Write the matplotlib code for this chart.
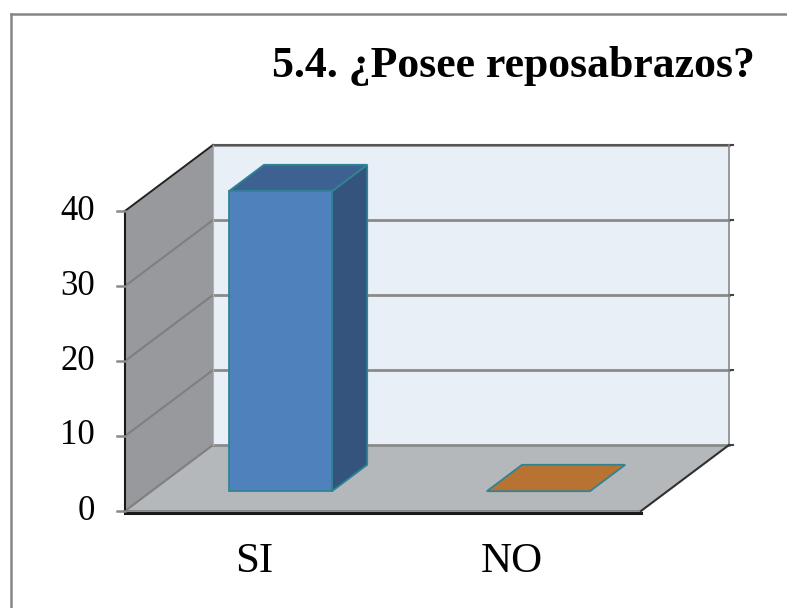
import matplotlib
matplotlib.use("Agg")
import matplotlib.pyplot as plt
from matplotlib.patches import Polygon
import numpy as np

# data
categories = ["SI", "NO"]
values = [40, 0]
y_ticks = [0, 10, 20, 30, 40]
title = "5.4. ¿Posee reposabrazos?"

W, H, DPI = 787, 608, 100
fig = plt.figure(figsize=(W / DPI, H / DPI), dpi=DPI)
fig.patch.set_facecolor("white")

# one axes over the whole figure, data units: category on x, value on y
ax = fig.add_axes([0, 0, 1, 1])
px_x = 516 / len(categories)       # pixels per category
px_y = 300 / max(y_ticks)          # pixels per value unit
x0_px, y0_px = 125, H - 511        # where (0, 0) sits
ax.set_xlim(-x0_px / px_x, (W - x0_px) / px_x)
ax.set_ylim(-y0_px / px_y, (H - y0_px) / px_y)
ax.axis("off")

# depth offset of the back wall, in data units
DX = 88 / px_x
DY = 66 / px_y


def proj(x, y, d):
    return (x + d * DX, y + d * DY)


ncat = len(categories)
ymax = max(y_ticks)
edge_dark = "#202020"

# left wall
ax.add_patch(Polygon([proj(0, 0, 0), proj(0, 0, 1), proj(0, ymax, 1), proj(0, ymax, 0)],
                     closed=True, facecolor="#97999c", edgecolor="none", zorder=1))
# back wall
ax.add_patch(Polygon([proj(0, 0, 1), proj(ncat, 0, 1), proj(ncat, ymax, 1), proj(0, ymax, 1)],
                     closed=True, facecolor="#e9eff6", edgecolor="none", zorder=1))
# floor
ax.add_patch(Polygon([proj(0, 0, 0), proj(ncat, 0, 0), proj(ncat, 0, 1), proj(0, 0, 1)],
                     closed=True, facecolor="#b5b8bb", edgecolor="none", zorder=1))

# gridlines on both walls
for v in y_ticks:
    a, b, c = proj(0, v, 0), proj(0, v, 1), proj(ncat, v, 1)
    ax.plot([a[0], b[0]], [a[1], b[1]], color="#7f7f7f", lw=1.5, zorder=2)
    ax.plot([b[0], c[0]], [b[1], c[1]], color="#8a8a8a", lw=2.0, zorder=2)
    # small tick on the right end of back wall
    ax.plot([c[0], c[0] + 4 / px_x], [c[1], c[1]], color="#444444", lw=1.5, zorder=2)

# wall borders
a, b = proj(0, ymax, 0), proj(0, ymax, 1)
ax.plot([a[0], b[0]], [a[1], b[1]], color=edge_dark, lw=1.2, zorder=3)
a, b = proj(0, ymax, 1), proj(ncat, ymax, 1)
ax.plot([a[0], b[0]], [a[1], b[1]], color="#555555", lw=1.5, zorder=3)
a, b = proj(ncat, 0, 1), proj(ncat, ymax, 1)
ax.plot([a[0], b[0]], [a[1], b[1]], color="#8a8a8a", lw=1.2, zorder=3)
a, b = proj(0, 0, 1), proj(0, ymax, 1)
ax.plot([a[0], b[0]], [a[1], b[1]], color="#b0b0b0", lw=0.8, zorder=3)

# floor edges
ax.plot([0, ncat], [-2.2 / px_y, -2.2 / px_y], color="#1a1a1a", lw=2.2, zorder=3)
ax.plot([0, ncat], [0, 0], color="#7a7a7a", lw=1.2, zorder=3)
a, b = proj(ncat, 0, 0), proj(ncat, 0, 1)
ax.plot([a[0], b[0]], [a[1], b[1]], color="#303030", lw=1.5, zorder=3)

# front axis line and ticks
ax.plot([0, 0], [0, ymax], color="#1a1a1a", lw=1.5, zorder=3)
for v in y_ticks:
    ax.plot([-8 / px_x, 0], [v, v], color="#8a8a8a", lw=1.8, zorder=3)
    ax.text(-30 / px_x, v, str(v), ha="right", va="center",
            fontsize=25, family="Liberation Serif", color="black")

# bars
bar_w = 0.4
d_front, d_back = 0.3, 0.7
colors = [("#4f81bd", "#34547e", "#3d6190"), ("#b87333", "#8a5626", "#b87333")]
bar_edge = "#2f8494"
for i, (cat, val) in enumerate(zip(categories, values)):
    xl = i + 0.5 - bar_w / 2
    xr = i + 0.5 + bar_w / 2
    front_c, side_c, top_c = colors[i]
    if val > 0:
        front = [proj(xl, 0, d_front), proj(xr, 0, d_front), proj(xr, val, d_front), proj(xl, val, d_front)]
        side = [proj(xr, 0, d_front), proj(xr, 0, d_back), proj(xr, val, d_back), proj(xr, val, d_front)]
        ax.add_patch(Polygon(side, closed=True, facecolor=side_c, edgecolor=bar_edge, lw=1.3, zorder=5))
        ax.add_patch(Polygon(front, closed=True, facecolor=front_c, edgecolor=bar_edge, lw=1.3, zorder=6))
    top = [proj(xl, val, d_front), proj(xr, val, d_front), proj(xr, val, d_back), proj(xl, val, d_back)]
    ax.add_patch(Polygon(top, closed=True, facecolor=top_c, edgecolor=bar_edge, lw=1.3, zorder=5))
    ax.text(i + 0.5, -51 / px_y, cat, ha="center", va="center",
            fontsize=31, family="Liberation Serif", color="black")

# title and outer frame (figure pixel coordinates)
fig.text(755 / W, 1 - 77 / H, title, ha="right", va="baseline",
         fontsize=31.5, fontweight="bold", family="Liberation Serif")
fig.add_artist(plt.Line2D([11 / W, 1], [1 - 14 / H, 1 - 14 / H], color="#878787", lw=1.8,
                          transform=fig.transFigure))
fig.add_artist(plt.Line2D([11 / W, 11 / W], [0, 1 - 14 / H], color="#878787", lw=1.8,
                          transform=fig.transFigure))

fig.savefig("out.png", dpi=DPI)
